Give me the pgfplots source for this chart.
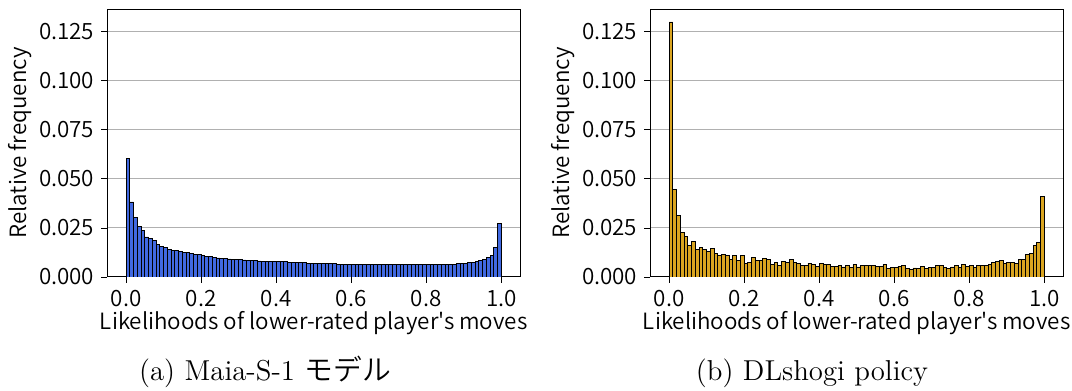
\documentclass[border=0pt]{standalone}
\usepackage{fontspec}
\newfontfamily\jp{Noto Sans CJK JP DemiLight}[Ligatures=TeXOff]
\usepackage{pgfplots}
\pgfplotsset{compat=1.18}
\usepackage{pgfplotstable}
\definecolor{royal}{HTML}{4169E1}
\definecolor{golden}{HTML}{DAA520}
\definecolor{gridc}{HTML}{B0B0B0}

\pgfplotstableread{
x y
0.005 0.0605
0.015 0.0382
0.025 0.0305
0.035 0.0258
0.045 0.0236
0.055 0.0204
0.065 0.0198
0.075 0.0184
0.085 0.0166
0.095 0.0157
0.105 0.0151
0.115 0.0141
0.125 0.0137
0.135 0.0136
0.145 0.0129
0.155 0.0127
0.165 0.0123
0.175 0.0119
0.185 0.0116
0.195 0.0113
0.205 0.0109
0.215 0.0106
0.225 0.0103
0.235 0.0100
0.245 0.0097
0.255 0.0094
0.265 0.0093
0.275 0.0092
0.285 0.0090
0.295 0.0089
0.305 0.0089
0.315 0.0087
0.325 0.0086
0.335 0.0085
0.345 0.0083
0.355 0.0082
0.365 0.0081
0.375 0.0080
0.385 0.0080
0.395 0.0079
0.405 0.0079
0.415 0.0078
0.425 0.0077
0.435 0.0076
0.445 0.0075
0.455 0.0074
0.465 0.0073
0.475 0.0072
0.485 0.0071
0.495 0.0070
0.505 0.0069
0.515 0.0068
0.525 0.0068
0.535 0.0067
0.545 0.0067
0.555 0.0067
0.565 0.0066
0.575 0.0066
0.585 0.0065
0.595 0.0065
0.605 0.0065
0.615 0.0064
0.625 0.0065
0.635 0.0064
0.645 0.0064
0.655 0.0063
0.665 0.0064
0.675 0.0063
0.685 0.0063
0.695 0.0062
0.705 0.0063
0.715 0.0062
0.725 0.0062
0.735 0.0062
0.745 0.0063
0.755 0.0062
0.765 0.0062
0.775 0.0062
0.785 0.0062
0.795 0.0062
0.805 0.0063
0.815 0.0063
0.825 0.0062
0.835 0.0064
0.845 0.0064
0.855 0.0064
0.865 0.0065
0.875 0.0066
0.885 0.0067
0.895 0.0068
0.905 0.0070
0.915 0.0073
0.925 0.0075
0.935 0.0078
0.945 0.0083
0.955 0.0088
0.965 0.0098
0.975 0.0110
0.985 0.0149
0.995 0.0273
}\maia

\pgfplotstableread{
x y
0.005 0.1299
0.015 0.0446
0.025 0.0314
0.035 0.0225
0.045 0.0206
0.055 0.0160
0.065 0.0179
0.075 0.0142
0.085 0.0149
0.095 0.0140
0.105 0.0132
0.115 0.0144
0.125 0.0120
0.135 0.0108
0.145 0.0113
0.155 0.0110
0.165 0.0091
0.175 0.0111
0.185 0.0083
0.195 0.0108
0.205 0.0068
0.215 0.0074
0.225 0.0100
0.235 0.0084
0.245 0.0084
0.255 0.0096
0.265 0.0091
0.275 0.0063
0.285 0.0074
0.295 0.0059
0.305 0.0079
0.315 0.0074
0.325 0.0088
0.335 0.0073
0.345 0.0068
0.355 0.0061
0.365 0.0061
0.375 0.0071
0.385 0.0063
0.395 0.0056
0.405 0.0068
0.415 0.0064
0.425 0.0063
0.435 0.0054
0.445 0.0052
0.455 0.0057
0.465 0.0051
0.475 0.0061
0.485 0.0049
0.495 0.0063
0.505 0.0051
0.515 0.0061
0.525 0.0057
0.535 0.0057
0.545 0.0061
0.555 0.0054
0.565 0.0054
0.575 0.0063
0.585 0.0044
0.595 0.0049
0.605 0.0049
0.615 0.0056
0.625 0.0061
0.635 0.0044
0.645 0.0039
0.655 0.0046
0.665 0.0043
0.675 0.0052
0.685 0.0042
0.695 0.0049
0.705 0.0049
0.715 0.0057
0.725 0.0057
0.735 0.0047
0.745 0.0044
0.755 0.0051
0.765 0.0057
0.775 0.0047
0.785 0.0064
0.795 0.0054
0.805 0.0057
0.815 0.0049
0.825 0.0057
0.835 0.0057
0.845 0.0057
0.855 0.0063
0.865 0.0074
0.875 0.0078
0.885 0.0086
0.895 0.0068
0.905 0.0073
0.915 0.0076
0.925 0.0069
0.935 0.0091
0.945 0.0091
0.955 0.0115
0.965 0.0122
0.975 0.0159
0.985 0.0174
0.995 0.0410
}\dlshogi

\pgfplotsset{hist/.style={
  scale only axis, width=206.4pt, height=134pt,
  anchor=south west,
  xmin=-0.05, xmax=1.05, ymin=0, ymax=0.1365,
  xtick={0,0.2,0.4,0.6,0.8,1},
  xticklabels={0.0,0.2,0.4,0.6,0.8,1.0},
  ytick={0,0.025,0.05,0.075,0.1,0.125},
  yticklabels={0.000,0.025,0.050,0.075,0.100,0.125},
  ymajorgrids, grid style={gridc, line width=0.5pt},
  tick align=outside, tick pos=left, major tick length=3pt,
  tick style={black, line width=0.4pt},
  axis line style={black, line width=0.5pt},
  /pgf/number format/assume math mode=true,
  ticklabel style={font=\jp\fontsize{11.2}{13}\selectfont},
  label style={font=\jp\fontsize{11.2}{13}\selectfont},
  xlabel={Likelihoods of lower-rated player's moves},
  ylabel={Relative frequency},
  xlabel style={at={(axis description cs:0.5,-0.172)}, anchor=center},
  ylabel style={at={(axis description cs:-0.211,0.5)}, anchor=center},
}}

\begin{document}
\begin{tikzpicture}
\path[use as bounding box] (0,0) rectangle (536pt,195.5pt);
\begin{axis}[hist, at={(53.65pt,57pt)}]
\addplot[ybar, bar width=0.01, bar shift=0pt, fill=royal, draw=black, line width=0.4pt] table[x=x,y=y] {\maia};
\end{axis}
\begin{axis}[hist, at={(325.15pt,57pt)}]
\addplot[ybar, bar width=0.01, bar shift=0pt, fill=golden, draw=black, line width=0.4pt] table[x=x,y=y] {\dlshogi};
\end{axis}
\node[anchor=base, font=\fontsize{14.4}{17}\selectfont] at (132.5pt,5pt) {(a) Maia-S-1 {\jp モデル}};
\node[anchor=base, font=\fontsize{14.4}{17}\selectfont] at (406pt,5pt) {(b) DLshogi policy};
\end{tikzpicture}
\end{document}
